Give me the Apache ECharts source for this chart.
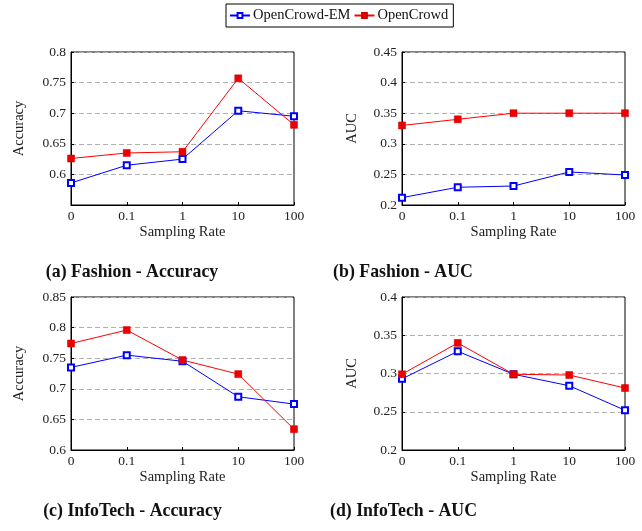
<!DOCTYPE html>
<html>
<head>
<meta charset="utf-8">
<script src="https://cdn.jsdelivr.net/npm/echarts@6/dist/echarts.min.js"></script>
<style>html,body{margin:0;padding:0;background:#fff}#c{width:642px;height:531px}</style>
</head>
<body>
<div id="c"></div>
<script>
const categories = ['0', '0.1', '1', '10', '100'];
const seriesNames = ['OpenCrowd-EM', 'OpenCrowd'];

const fashionAccEM = [0.586, 0.615, 0.625, 0.704, 0.695];
const fashionAccOC = [0.626, 0.635, 0.637, 0.757, 0.681];
const fashionAucEM = [0.212, 0.229, 0.231, 0.254, 0.249];
const fashionAucOC = [0.330, 0.340, 0.350, 0.350, 0.350];
const infoAccEM = [0.735, 0.755, 0.745, 0.687, 0.675];
const infoAccOC = [0.774, 0.796, 0.747, 0.724, 0.634];
const infoAucEM = [0.293, 0.329, 0.299, 0.284, 0.252];
const infoAucOC = [0.299, 0.340, 0.299, 0.298, 0.281];

const panelTitles = ['(a) Fashion - Accuracy', '(b) Fashion - AUC', '(c) InfoTech - Accuracy', '(d) InfoTech - AUC'];
const yNames = ['Accuracy', 'AUC', 'Accuracy', 'AUC'];
const yRanges = [[0.55, 0.8], [0.2, 0.45], [0.6, 0.85], [0.2, 0.4]];
const xName = 'Sampling Rate';

const panelData = [
  [fashionAccEM, fashionAccOC],
  [fashionAucEM, fashionAucOC],
  [infoAccEM, infoAccOC],
  [infoAucEM, infoAucOC]
];

const FONT = '"Liberation Serif", "DejaVu Serif", serif';
const grids = [
  {left: 71, top: 52, width: 223, height: 153},
  {left: 402, top: 52, width: 223, height: 153},
  {left: 71, top: 297, width: 223, height: 153},
  {left: 402, top: 297, width: 223, height: 153}
];
const titlePos = [[132, 272], [403, 272], [132.5, 511], [403.5, 511]];
const nameGaps = [44, 42, 44, 42];

const chart = echarts.init(document.getElementById('c'), null, {renderer: 'canvas'});

const option = {
  animation: false,
  backgroundColor: '#fff',
  legend: {
    data: seriesNames,
    left: 226, top: 4,
    orient: 'horizontal',
    borderColor: '#000', borderWidth: 1,
    padding: [4, 5, 4, 3],
    itemGap: 3,
    itemWidth: 20, itemHeight: 6,
    textStyle: {fontFamily: FONT, fontSize: 14.5, color: '#111', padding: [0, 0, 0, -2]}
  },
  grid: grids.map(g => Object.assign({show: true, borderColor: '#000', borderWidth: 1, backgroundColor: 'transparent', containLabel: false}, g)),
  xAxis: grids.map((g, i) => ({
    gridIndex: i,
    type: 'category',
    data: categories,
    boundaryGap: false,
    name: xName,
    nameLocation: 'middle',
    nameGap: 20,
    nameTextStyle: {fontFamily: FONT, fontSize: 14.5, color: '#222'},
    axisLine: {lineStyle: {color: '#000', width: 1}},
    axisTick: {show: true, inside: true, length: 3, lineStyle: {color: '#000'}},
    axisLabel: {fontFamily: FONT, fontSize: 13.5, color: '#222', margin: 4},
    splitLine: {show: false}
  })),
  yAxis: grids.map((g, i) => ({
    gridIndex: i,
    type: 'value',
    min: yRanges[i][0], max: yRanges[i][1], interval: 0.05,
    name: yNames[i],
    nameLocation: 'middle',
    nameGap: nameGaps[i],
    nameTextStyle: {fontFamily: FONT, fontSize: 14.5, color: '#222'},
    axisLine: {show: true, lineStyle: {color: '#000', width: 1}},
    axisTick: {show: true, inside: true, length: 3, lineStyle: {color: '#000'}},
    axisLabel: {fontFamily: FONT, fontSize: 13.5, color: '#222', margin: 5, showMinLabel: i !== 0,
      formatter: v => String(Math.round(v * 100) / 100)},
    splitLine: {show: true, lineStyle: {color: '#b0b0b0', type: [5, 3], width: 1}}
  })),
  series: [],
  graphic: panelTitles.map((t, i) => ({
    type: 'text',
    x: titlePos[i][0], y: titlePos[i][1],
    style: {text: t, fontFamily: FONT, fontSize: 17.8, fontWeight: 'bold', fill: '#111', textAlign: 'center', textVerticalAlign: 'middle'}
  }))
};

panelData.forEach((pair, i) => {
  option.series.push({
    name: seriesNames[0], type: 'line', xAxisIndex: i, yAxisIndex: i,
    data: pair[0], symbol: 'emptyRect', symbolSize: 6,
    lineStyle: {color: '#0000ff', width: 1},
    itemStyle: {color: '#0000ff', borderColor: '#0000ff', borderWidth: 1},
    z: 3
  });
  option.series.push({
    name: seriesNames[1], type: 'line', xAxisIndex: i, yAxisIndex: i,
    data: pair[1], symbol: 'rect', symbolSize: 7,
    lineStyle: {color: '#ff0000', width: 1},
    itemStyle: {color: '#ee0000', borderColor: '#cc0000', borderWidth: 0.5},
    z: 4
  });
});

chart.setOption(option);
</script>
</body>
</html>
